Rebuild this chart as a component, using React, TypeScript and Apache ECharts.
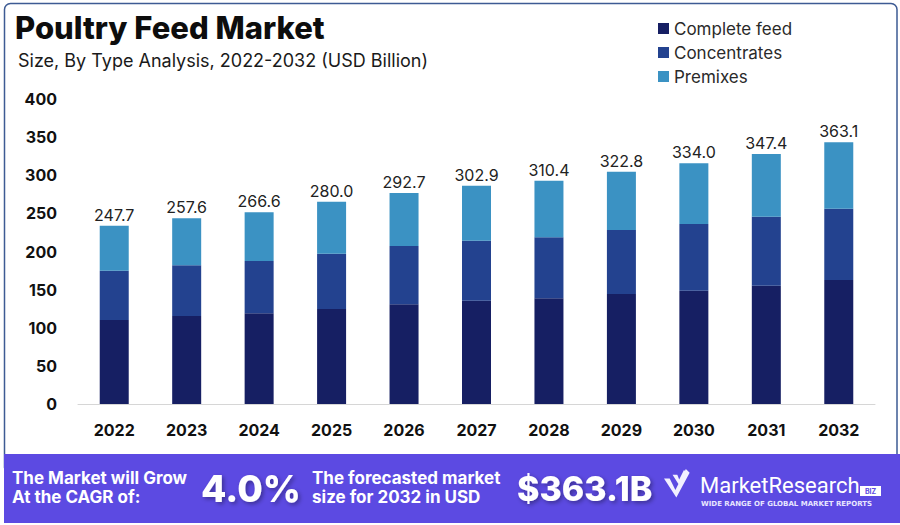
import React, { useEffect, useRef } from "react";
import * as echarts from "echarts";

const years = ["2022", "2023", "2024", "2025", "2026", "2027", "2028", "2029", "2030", "2031", "2032"];
const completeFeed = [110.2, 115.4, 118.9, 124.6, 130.7, 135.5, 138.6, 144.3, 148.6, 155.2, 162.6];
const concentrates = [64.6, 66.5, 68.6, 72.6, 76.5, 78.7, 80.0, 83.9, 87.5, 90.5, 93.6];
const premixes = [59.0, 61.6, 63.9, 68.1, 69.5, 72.1, 74.3, 76.5, 79.5, 82.2, 87.0];
const totalLabels = ["247.7", "257.6", "266.6", "280.0", "292.7", "302.9", "310.4", "322.8", "334.0", "347.4", "363.1"];
const seriesNames = ["Complete feed", "Concentrates", "Premixes"];
const seriesColors = ["#161f63", "#23428f", "#3b92c3"];

const FONT = "Inter, 'Open Sans', sans-serif";

export default function App() {
  const ref = useRef<HTMLDivElement>(null);
  useEffect(() => {
    if (!ref.current) return;
    echarts.graphic.registerShape(
      "mrcheck",
      echarts.graphic.extendPath(
        "M0 10 L6 10 L12 22 L23 0 L27 4 L13 30 Z M9 6 L14 6 L16 11 L21 1 L23 3 L16 17 Z",
        {}
      ) as any
    );
    const chart = echarts.init(ref.current, undefined, { renderer: "svg" });
    const seriesData = [completeFeed, concentrates, premixes];
    const option: any = {
      animation: false,
      backgroundColor: "#ffffff",
      textStyle: { fontFamily: FONT },
      grid: { left: 78, right: 25, top: 99, bottom: 121, containLabel: false },
      legend: {
        orient: "vertical",
        left: 653,
        top: 15,
        itemWidth: 11,
        itemHeight: 11,
        itemGap: 7,
        icon: "rect",
        data: seriesNames,
        textStyle: { fontSize: 17, color: "#2a2a2a", fontFamily: FONT },
      },
      xAxis: {
        type: "category",
        data: years,
        axisLine: { show: true, lineStyle: { color: "#d6d6d6", width: 1 } },
        axisTick: { show: false },
        axisLabel: { fontSize: 16, fontWeight: "bold", color: "#111", margin: 18, fontFamily: FONT },
      },
      yAxis: {
        type: "value",
        min: 0,
        max: 400,
        interval: 50,
        splitLine: { show: false },
        axisLine: { show: false },
        axisTick: { show: false },
        axisLabel: { fontSize: 16, fontWeight: "bold", color: "#111", margin: 21, fontFamily: FONT },
      },
      series: seriesNames.map((name, i) => ({
        name,
        type: "bar",
        stack: "total",
        barWidth: 29,
        data: seriesData[i],
        itemStyle: { color: seriesColors[i] },
        label:
          i === 2
            ? {
                show: true,
                position: "top",
                distance: 3,
                fontSize: 16,
                color: "#222",
                fontFamily: FONT,
                formatter: (p: any) => totalLabels[p.dataIndex],
              }
            : { show: false },
      })),
      graphic: [
        {
          type: "rect",
          shape: { x: 4.5, y: 3.5, width: 892.5, height: 470, r: 6 },
          style: { fill: "none", stroke: "#3d5b94", lineWidth: 1.5 },
          z: 0,
        },
        {
          type: "rect",
          shape: { x: 4, y: 454, width: 896, height: 69 },
          style: { fill: "#5c4ae2" },
          z: 1,
        },
        {
          type: "text",
          x: 15,
          y: 27,
          style: {
            text: "Poultry Feed Market",
            fontSize: 31,
            fontWeight: 800,
            fill: "#0d0d0d",
            fontFamily: FONT,
            textVerticalAlign: "middle",
          },
        },
        {
          type: "text",
          x: 18,
          y: 60,
          style: {
            text: "Size, By Type Analysis, 2022-2032 (USD Billion)",
            fontSize: 18,
            fill: "#1a1a1a",
            fontFamily: FONT,
            textVerticalAlign: "middle",
          },
        },
        {
          type: "text",
          x: 12,
          y: 478,
          z: 2,
          style: { text: "The Market will Grow", fontSize: 17, fontWeight: "bold", fill: "#fff", fontFamily: FONT, textVerticalAlign: "middle" },
        },
        {
          type: "text",
          x: 12,
          y: 497,
          z: 2,
          style: { text: "At the CAGR of:", fontSize: 17, fontWeight: "bold", fill: "#fff", fontFamily: FONT, textVerticalAlign: "middle" },
        },
        {
          type: "text",
          x: 201,
          y: 488,
          z: 2,
          style: {
            text: "4.0%",
            fontSize: 37,
            fontWeight: 800,
            fill: "#fff",
            fontFamily: FONT,
            textVerticalAlign: "middle",
            textShadowColor: "rgba(0,0,0,0.35)",
            textShadowBlur: 4,
            textShadowOffsetX: 2,
            textShadowOffsetY: 2,
          },
        },
        {
          type: "text",
          x: 312,
          y: 478,
          z: 2,
          style: { text: "The forecasted market", fontSize: 17, fontWeight: "bold", fill: "#fff", fontFamily: FONT, textVerticalAlign: "middle" },
        },
        {
          type: "text",
          x: 312,
          y: 497,
          z: 2,
          style: { text: "size for 2032 in USD", fontSize: 17, fontWeight: "bold", fill: "#fff", fontFamily: FONT, textVerticalAlign: "middle" },
        },
        {
          type: "text",
          x: 517,
          y: 488,
          z: 2,
          style: {
            text: "$363.1B",
            fontSize: 34,
            fontWeight: 800,
            fill: "#fff",
            fontFamily: FONT,
            textVerticalAlign: "middle",
            textShadowColor: "rgba(0,0,0,0.35)",
            textShadowBlur: 4,
            textShadowOffsetX: 2,
            textShadowOffsetY: 2,
          },
        },
        {
          type: "mrcheck",
          x: 664,
          y: 469,
          scaleX: 0.95,
          scaleY: 0.95,
          z: 2,
          style: { fill: "#f2f0ff" },
        },
        {
          type: "text",
          x: 700,
          y: 485,
          z: 2,
          style: { text: "MarketResearch", fontSize: 22, fontWeight: 400, fill: "#fff", fontFamily: "Roboto, sans-serif", textVerticalAlign: "middle" },
        },
        {
          type: "rect",
          shape: { x: 860, y: 486, width: 21, height: 10 },
          style: { fill: "#ffffff" },
          z: 2,
        },
        {
          type: "text",
          x: 870.5,
          y: 491,
          z: 3,
          style: { text: "BIZ", fontSize: 7, fontWeight: "bold", fill: "#5c4ae2", fontFamily: FONT, textAlign: "center", textVerticalAlign: "middle" },
        },
        {
          type: "text",
          x: 701,
          y: 504,
          z: 2,
          style: { text: "WIDE RANGE OF GLOBAL MARKET REPORTS", fontSize: 7, fontWeight: "bold", fill: "#e8e6ff", fontFamily: "'DejaVu Sans', sans-serif", textVerticalAlign: "middle" },
        },
      ],
    };
    chart.setOption(option);
    return () => chart.dispose();
  }, []);
  return (
    <div
      ref={ref}
      style={{ position: "absolute", left: 0, top: 0, width: 900, height: 525 }}
    />
  );
}
